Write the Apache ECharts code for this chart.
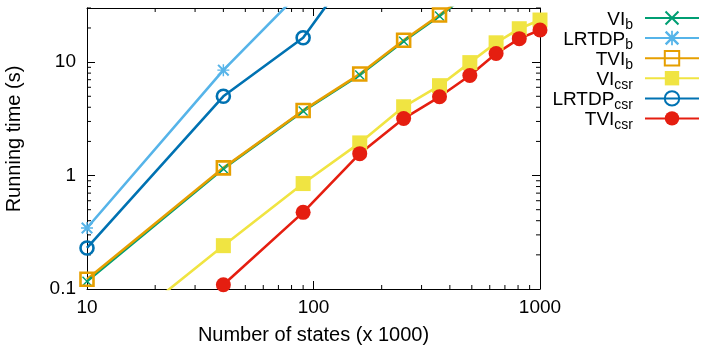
<!DOCTYPE html>
<html>
<head>
<meta charset="utf-8">
<script src="https://cdn.jsdelivr.net/npm/echarts@6/dist/echarts.min.js"></script>
<style>
  html, body { margin: 0; padding: 0; background: #fff; }
  #chart { width: 708px; height: 351px; }
</style>
</head>
<body>
<div id="chart"></div>
<script>
// number of states (x 1000)
const states = [10, 40, 90, 160, 250, 360, 490, 640, 810, 1000]

// running time (s), null = not measured
const viB = [0.117, 1.15, 3.7, 7.7, 15.3, 25.5, 41, null, null, null]
const lrtdpB = [0.345, 8.5, 44, null, null, null, null, null, null, null]
const tviB = [0.122, 1.17, 3.75, 7.85, 15.6, 26, 42, null, null, null]
const viCsr = [0.026, 0.241, 0.85, 1.94, 4.04, 6.2, 9.9, 14.8, 19.7, 23.5]
const lrtdpCsr = [0.23, 5.0, 16.4, 80, null, null, null, null, null, null]
const tviCsr = [null, 0.109, 0.474, 1.56, 3.18, 4.95, 7.63, 11.9, 16.1, 19.2]

const xTickLabels = [10, 100, 1000]
const yTickLabels = [0.1, 1, 10]
const xMinor = [20, 30, 40, 50, 60, 70, 80, 90, 200, 300, 400, 500, 600, 700, 800, 900]
const yMinor = [0.2, 0.3, 0.4, 0.5, 0.6, 0.7, 0.8, 0.9, 2, 3, 4, 5, 6, 7, 8, 9, 20, 30]

const X_MIN = 10, X_MAX = 1000, Y_MIN = 0.1, Y_MAX = 30
const FONT = 'Liberation Sans'
const LW = 2.6

const xPath = 'path://M1,0 L10,9 L9,10 L0,1 Z M9,0 L10,1 L1,10 L0,9 Z'
const starPath = 'path://M1.2,0 L10,8.8 L8.8,10 L0,1.2 Z M8.8,0 L10,1.2 L1.2,10 L0,8.8 Z M4.4,0 L5.6,0 L5.6,10 L4.4,10 Z M0,4.4 L10,4.4 L10,5.6 L0,5.6 Z'

function pairs(vals) {
    const out = []
    for (let i = 0; i < states.length; i++) {
        if (vals[i] !== null) out.push([states[i], vals[i]])
    }
    return out
}

function mkSeries(name, vals, color, symbol, size, hollow) {
    return {
        name: name,
        type: 'line',
        data: pairs(vals),
        symbol: symbol,
        symbolSize: size,
        showAllSymbol: true,
        lineStyle: { color: color, width: LW },
        itemStyle: hollow
            ? { color: 'rgba(0,0,0,0)', borderColor: color, borderWidth: LW }
            : { color: color },
        emphasis: { disabled: true },
        clip: true
    }
}

// minor ticks of the log axes, placed through the axes' own scale
function minorTicks(axis, vals) {
    return {
        type: 'custom',
        silent: true,
        clip: false,
        data: vals.map(v => axis === 'x' ? [v, Y_MIN] : [X_MIN, v]),
        renderItem: function (params, api) {
            const v = api.value(axis === 'x' ? 0 : 1)
            const st = { stroke: '#000', lineWidth: 1 }
            if (axis === 'x') {
                const a = api.coord([v, Y_MIN]), b = api.coord([v, Y_MAX])
                return { type: 'group', children: [
                    { type: 'line', shape: { x1: a[0], y1: a[1], x2: a[0], y2: a[1] - 4 }, style: st },
                    { type: 'line', shape: { x1: b[0], y1: b[1], x2: b[0], y2: b[1] + 4 }, style: st }
                ] }
            }
            const a = api.coord([X_MIN, v]), b = api.coord([X_MAX, v])
            return { type: 'group', children: [
                { type: 'line', shape: { x1: a[0], y1: a[1], x2: a[0] + 4, y2: a[1] }, style: st },
                { type: 'line', shape: { x1: b[0], y1: b[1], x2: b[0] - 4, y2: b[1] }, style: st }
            ] }
        }
    }
}

const subName = {
    'VI_b': ['VI', 'b'], 'LRTDP_b': ['LRTDP', 'b'], 'TVI_b': ['TVI', 'b'],
    'VI_csr': ['VI', 'csr'], 'LRTDP_csr': ['LRTDP', 'csr'], 'TVI_csr': ['TVI', 'csr']
}

const logAxis = (min, max, pos, labels) => ({
    type: 'log',
    logBase: 10,
    min: min,
    max: max,
    position: pos,
    axisLine: { show: true, onZero: false, lineStyle: { color: '#000', width: 1 } },
    axisTick: { show: true, inside: true, length: 8, lineStyle: { color: '#000' } },
    splitLine: { show: false },
    minorTick: { show: false },
    axisLabel: labels === null ? { show: false } : labels
})

const chart = echarts.init(document.getElementById('chart'), null, { renderer: 'canvas' })

const option = {
    animation: false,
    backgroundColor: '#fff',
    textStyle: { fontFamily: FONT, color: '#000' },
    grid: { left: 87, right: 168, top: 8, bottom: 62, containLabel: false, outerBoundsMode: 'none' },
    legend: {
        orient: 'vertical',
        right: 3,
        top: 5,
        align: 'right',
        itemWidth: 54,
        itemHeight: 18,
        itemGap: -2,
        data: ['VI_b', 'LRTDP_b', 'TVI_b', 'VI_csr', 'LRTDP_csr', 'TVI_csr'],
        formatter: function (name) {
            const p = subName[name]
            return '{n|' + p[0] + '}{s|' + p[1] + '}'
        },
        textStyle: {
            width: 92,
            padding: [0, 7, 0, 0],
            rich: {
                n: { fontFamily: FONT, fontSize: 19, color: '#000', lineHeight: 16, verticalAlign: 'top', align: 'right' },
                s: { fontFamily: FONT, fontSize: 14, color: '#000', lineHeight: 14, padding: [8, 0, 0, 0], verticalAlign: 'top', align: 'right' }
            }
        }
    },
    xAxis: [
        Object.assign(logAxis(X_MIN, X_MAX, 'bottom', {
            show: true, color: '#000', fontSize: 19, fontFamily: FONT, margin: 9,
            formatter: v => xTickLabels.indexOf(Math.round(v)) >= 0 ? String(Math.round(v)) : ''
        }), {
            name: 'Number of states (x 1000)',
            nameLocation: 'middle',
            nameGap: 36,
            nameTextStyle: { fontSize: 20, fontFamily: FONT, color: '#000' }
        }),
        logAxis(X_MIN, X_MAX, 'top', null)
    ],
    yAxis: [
        Object.assign(logAxis(Y_MIN, Y_MAX, 'left', {
            show: true, color: '#000', fontSize: 19, fontFamily: FONT, margin: 11,
            showMaxLabel: false,
            formatter: v => {
                const hit = yTickLabels.find(t => Math.abs(t - v) < t * 1e-6)
                return hit !== undefined ? String(hit) : ''
            }
        }), {
            name: 'Running time (s)',
            nameLocation: 'middle',
            nameGap: 63,
            nameTextStyle: { fontSize: 20, fontFamily: FONT, color: '#000', padding: [0, 0, 0, 19] }
        }),
        logAxis(Y_MIN, Y_MAX, 'right', null)
    ],
    series: [
        mkSeries('VI_b', viB, '#009e73', xPath, 10, false),
        mkSeries('LRTDP_b', lrtdpB, '#56b4e9', starPath, 12, false),
        mkSeries('TVI_b', tviB, '#e69f00', 'rect', 13, true),
        mkSeries('VI_csr', viCsr, '#f0e442', 'rect', 15, false),
        mkSeries('LRTDP_csr', lrtdpCsr, '#0072b2', 'circle', 13, true),
        mkSeries('TVI_csr', tviCsr, '#e51e10', 'circle', 15, false),
        minorTicks('x', xMinor),
        minorTicks('y', yMinor)
    ]
}

chart.setOption(option)
</script>
</body>
</html>
